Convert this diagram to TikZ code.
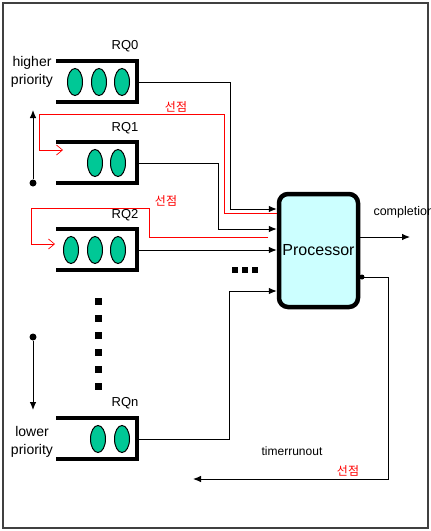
\documentclass[tikz,border=0pt]{standalone}
\usepackage{fontspec}
\setmainfont{Liberation Sans}
\newfontfamily\kr{Noto Sans CJK KR}
\usetikzlibrary{arrows.meta,shapes.geometric}
\definecolor{qgreen}{RGB}{0,200,150}
\definecolor{proccyan}{RGB}{204,255,255}
\tikzset{
  qbar/.style={line width=3.6pt, line join=miter},
  token/.style={ellipse, draw, line width=1pt, fill=qgreen, minimum width=15pt, minimum height=27pt, inner sep=0pt},
  conn/.style={line width=0.9pt, -{Latex[length=8pt,width=6.5pt]}},
  pre/.style={red, line width=0.7pt},
  prearrow/.style={pre, -{Straight Barb[length=6pt,width=10pt,line width=0.7pt]}},
  qlabel/.style={font=\fontsize{13}{15}\selectfont},
  prio/.style={font=\fontsize{14}{18}\selectfont, align=center},
  krlabel/.style={text=red, font=\kr\fontsize{12}{14}\selectfont},
  sqdot/.style={fill=black, minimum size=7pt, inner sep=0pt},
  hsqdot/.style={fill=black, minimum size=6pt, inner sep=0pt},
  enddot/.style={circle, fill=black, minimum size=7pt, inner sep=0pt},
}
\begin{document}
\begin{tikzpicture}[x=1pt,y=-1pt]
\useasboundingbox (0,0) rectangle (431,531);
\draw[line width=1.4pt, black!75] (3,3) rectangle (428,528);

% queues
\foreach \c in {82,163,250,439}{
  \draw[qbar] (56,\c-21) -- (137,\c-21) -- (137,\c+20) -- (56,\c+20);
}
\node[token] (t01) at (75,82) {};
\node[token] (t02) at (99,82) {};
\node[token] (t03) at (122,82) {};
\node[token] (t11) at (95,163) {};
\node[token] (t12) at (118,163) {};
\node[token] (t21) at (71,250) {};
\node[token] (t22) at (95,250) {};
\node[token] (t23) at (118,250) {};
\node[token] (tn1) at (98,439) {};
\node[token] (tn2) at (122,439) {};

\node[qlabel] (l0) at (125,46) {RQ0};
\node[qlabel] (l1) at (125,128) {RQ1};
\node[qlabel] (l2) at (125,215) {RQ2};
\node[qlabel] (ln) at (125,403) {RQn};

\node[prio] (hp) at (32,72) {higher\\priority};
\node[prio] (lp) at (32,442) {lower\\priority};

\coordinate (q0) at (139,82);
\coordinate (q1) at (139,163);
\coordinate (q2) at (139,250);
\coordinate (qn) at (139,439);

% processor
\node[draw, line width=4.5pt, rounded corners=9pt, fill=proccyan,
      minimum width=79pt, minimum height=113pt, inner sep=0pt,
      font=\fontsize{16}{18}\selectfont] (proc) at (318.5,250.5) {Processor};

% connectors into processor
\draw[conn] (q0) -- (230,82) |- (proc.west |- 0,209);
\draw[conn] (q1) -- (218,163) |- (proc.west |- 0,229);
\draw[conn] (q2) -- (proc.west |- q2);
\draw[conn] (qn) -- (229,439) |- (proc.west |- 0,291);

% preemption lines
\coordinate (r1s) at (proc.west |- 0,213);
\coordinate (r1e) at (63,150);
\draw[prearrow] (r1s) -- (224,213) -- (224,114) -- (39,114) |- (r1e);
\coordinate (r2s) at (268,237);
\coordinate (r2e) at (55,244);
\draw[prearrow] (r2s) -- (149,237) -- (149,208) -- (31,208) |- (r2e);
\node[krlabel] (k1) at (176,107) {선점};
\node[krlabel] (k2) at (166,201) {선점};

% completion
\coordinate (comp) at (410,237);
\draw[conn] (proc.east |- comp) -- (comp);
\node[font=\fontsize{12.5}{14}\selectfont, anchor=west] (ctext) at (370,212) {completion};

% timer run out
\node[circle, fill=black, minimum size=5pt, inner sep=0pt] (tdot) at (362,277) {};
\coordinate (tend) at (193,479);
\draw[conn] (tdot.center) -- (388,277) |- (tend);
\node[font=\fontsize{12}{14}\selectfont] (ttext) at (292,451) {timerrunout};
\node[krlabel] (k3) at (348,471) {선점};

% dots
\foreach \yy in {301,318,335,352,369,386}{
  \node[sqdot] at (98,\yy) {};
}
\foreach \xx in {235,245,255}{
  \node[hsqdot] at (\xx,270) {};
}

% priority arrows
\node[enddot] (pu) at (33,183) {};
\coordinate (pue) at (33,110);
\draw[conn] (pu) -- (pue);
\node[enddot] (pd) at (33,337) {};
\coordinate (pde) at (33,410);
\draw[conn] (pd) -- (pde);
\end{tikzpicture}
\end{document}
